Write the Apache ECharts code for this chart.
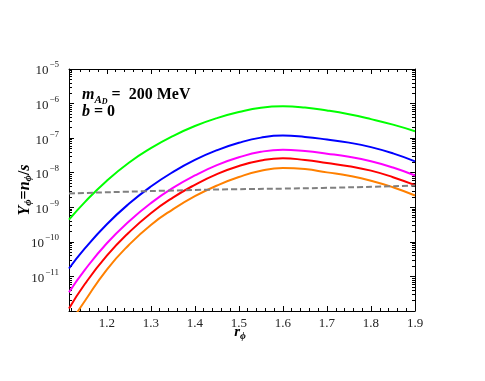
<!DOCTYPE html>
<html>
<head>
<meta charset="utf-8">
<script src="https://cdn.jsdelivr.net/npm/echarts@6/dist/echarts.min.js"></script>
<style>
  html, body { margin: 0; padding: 0; background: #fff; }
  #chart { width: 485px; height: 381px; }
</style>
</head>
<body>
<div id="chart"></div>
<script>
// r_phi sample positions
const rVals = [1.114, 1.15, 1.2, 1.25, 1.3, 1.35, 1.4, 1.45, 1.5, 1.55, 1.6, 1.65, 1.7, 1.75, 1.8, 1.85, 1.9];
// log10(Y_phi) for each curve
const greenY   = [-9.36, -8.85, -8.23, -7.71, -7.29, -6.94, -6.65, -6.42, -6.245, -6.12, -6.08, -6.115, -6.2, -6.31, -6.45, -6.61, -6.8];
const blueY    = [-10.77, -10.19, -9.49, -8.9, -8.4, -7.98, -7.63, -7.35, -7.135, -6.985, -6.925, -6.965, -7.04, -7.13, -7.26, -7.44, -7.67];
const magentaY = [-11.46, -10.81, -10.04, -9.41, -8.88, -8.44, -8.08, -7.78, -7.555, -7.395, -7.335, -7.375, -7.45, -7.54, -7.67, -7.85, -8.08];
const redY     = [-11.93, -11.22, -10.4, -9.73, -9.17, -8.72, -8.35, -8.04, -7.805, -7.645, -7.58, -7.635, -7.72, -7.81, -7.94, -8.13, -8.36];
const orangeY  = [-12.4, -11.71, -10.8, -10.09, -9.51, -9.06, -8.68, -8.37, -8.125, -7.945, -7.865, -7.895, -7.99, -8.09, -8.23, -8.42, -8.66];
// dashed reference line
const dashR = [1.114, 1.4, 1.69, 1.9];
const dashY = [-8.6, -8.5, -8.44, -8.37];

// ticks
const xLabels = [1.2, 1.3, 1.4, 1.5, 1.6, 1.7, 1.8, 1.9];
const xMinor = [];
for (let i = 56; i <= 95; i++) xMinor.push(+(i * 0.02).toFixed(2));
const yLabels = [-11, -10, -9, -8, -7, -6, -5];
const yMajor = [-12, -11, -10, -9, -8, -7, -6, -5];
const yMinor = [];
for (let n = -12; n < -5; n++) for (let k = 2; k <= 9; k++) yMinor.push(n + Math.log10(k));

const FONT = 'Liberation Serif';
const pair = (xs, ys) => xs.map((x, i) => [x, ys[i]]);

const chart = echarts.init(document.getElementById('chart'));

function xAx(pos, ticks, len, labels, line) {
  return {
    type: 'value', position: pos, min: 1.114, max: 1.9,
    splitLine: { show: false },
    axisLine: { show: line, onZero: false, lineStyle: { color: '#000', width: 1 } },
    axisTick: { show: true, inside: true, length: len, customValues: ticks, lineStyle: { color: '#000' } },
    axisLabel: labels ? { show: true, customValues: xLabels, fontFamily: FONT, fontSize: 13, color: '#222', margin: 6,
                          formatter: v => v.toFixed(1) } : { show: false }
  };
}
function yAx(pos, ticks, len, labels, line) {
  return {
    type: 'value', position: pos, min: -12, max: -5,
    splitLine: { show: false },
    axisLine: { show: line, onZero: false, lineStyle: { color: '#000', width: 1 } },
    axisTick: { show: true, inside: true, length: len, customValues: ticks, lineStyle: { color: '#000' } },
    axisLabel: labels ? {
      show: true, customValues: yLabels, margin: 10,
      formatter: v => '{b|10}{s|\u2212' + Math.abs(Math.round(v)) + '}',
      rich: {
        b: { fontFamily: FONT, fontSize: 13, color: '#222', lineHeight: 17, verticalAlign: 'bottom' },
        s: { fontFamily: FONT, fontSize: 9, color: '#222', verticalAlign: 'top', padding: [0, 0, 0, 1] }
      }
    } : { show: false }
  };
}

const lineS = (name, color, ys) => ({
  name, type: 'line', data: pair(rVals, ys), smooth: 0.5, symbol: 'none',
  lineStyle: { color, width: 2 }, clip: true
});

chart.setOption({
  animation: false,
  grid: { left: 69, right: 70, top: 69, bottom: 70 },
  xAxis: [
    xAx('bottom', xLabels, 5, true, true),
    xAx('bottom', xMinor, 3, false, false),
    xAx('top', xLabels, 5, false, true),
    xAx('top', xMinor, 3, false, false)
  ],
  yAxis: [
    yAx('left', yMajor, 5, true, true),
    yAx('left', yMinor, 3, false, false),
    yAx('right', yMajor, 5, false, true),
    yAx('right', yMinor, 3, false, false)
  ],
  series: [
    lineS('green', '#00ff00', greenY),
    lineS('blue', '#0000ff', blueY),
    lineS('magenta', '#ff00ff', magentaY),
    lineS('red', '#ff0000', redY),
    lineS('orange', '#ff8000', orangeY),
    {
      name: 'dashed', type: 'line', data: pair(dashR, dashY), smooth: 0.5, symbol: 'none',
      lineStyle: { color: '#808080', width: 2, type: [6, 3] }
    }
  ],
  graphic: [
    {
      type: 'text', x: 82, y: 84,
      style: {
        text: '{m|m}{a|A}{d|D}{t| =  200 MeV}',
        rich: {
          m: { fontFamily: FONT, fontSize: 16, fontWeight: 'bold', fontStyle: 'italic', lineHeight: 20, verticalAlign: 'middle' },
          a: { fontFamily: FONT, fontSize: 11, fontWeight: 'bold', fontStyle: 'italic', verticalAlign: 'bottom', padding: [7, 0, 0, 0] },
          d: { fontFamily: FONT, fontSize: 8, fontWeight: 'bold', fontStyle: 'italic', verticalAlign: 'bottom', padding: [14, 0, 0, 0] },
          t: { fontFamily: FONT, fontSize: 16, fontWeight: 'bold', lineHeight: 20, verticalAlign: 'middle' }
        }
      }
    },
    {
      type: 'text', x: 82, y: 104,
      style: {
        text: '{i|b}{t| = 0}',
        rich: {
          i: { fontFamily: FONT, fontSize: 16, fontWeight: 'bold', fontStyle: 'italic' },
          t: { fontFamily: FONT, fontSize: 16, fontWeight: 'bold' }
        }
      }
    },
    {
      type: 'text', x: 25, y: 190, rotation: Math.PI / 2,
      style: {
        text: '{y|Y}{s|\u03d5}{t|=}{y|n}{s|\u03d5}{t|/}{y|s}',
        align: 'center', verticalAlign: 'middle',
        rich: {
          y: { fontFamily: FONT, fontSize: 16, fontWeight: 'bold', fontStyle: 'italic', lineHeight: 18, verticalAlign: 'middle' },
          s: { fontFamily: FONT, fontSize: 11, fontWeight: 'bold', fontStyle: 'italic', verticalAlign: 'bottom', padding: [6, 0, 0, 0] },
          t: { fontFamily: FONT, fontSize: 16, fontWeight: 'bold', lineHeight: 18, verticalAlign: 'middle' }
        }
      }
    },
    {
      type: 'text', x: 240, y: 332,
      style: {
        text: '{y|r}{s|\u03d5}',
        align: 'center', verticalAlign: 'middle',
        rich: {
          y: { fontFamily: FONT, fontSize: 15, fontWeight: 'bold', fontStyle: 'italic', lineHeight: 18, verticalAlign: 'middle' },
          s: { fontFamily: FONT, fontSize: 10, fontWeight: 'bold', fontStyle: 'italic', verticalAlign: 'bottom', padding: [6, 0, 0, 0] }
        }
      }
    }
  ]
});
</script>
</body>
</html>
